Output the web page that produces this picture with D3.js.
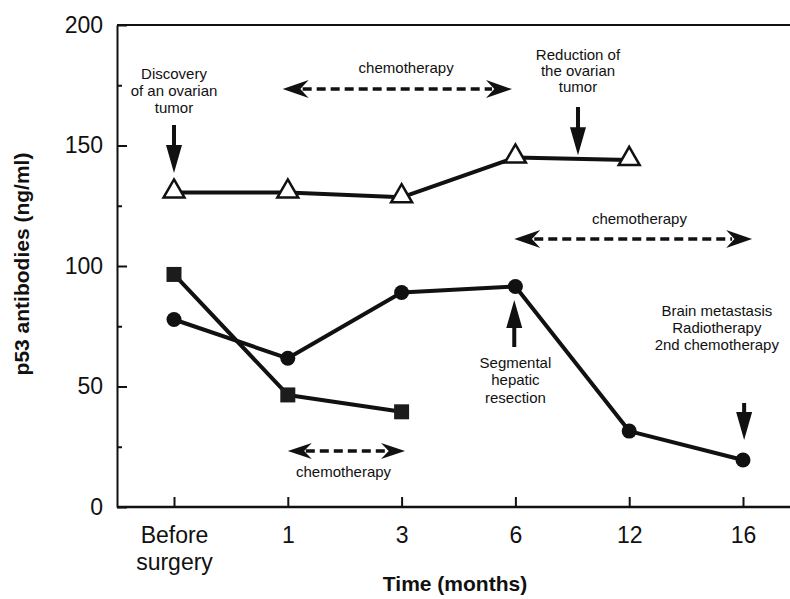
<!DOCTYPE html>
<html>
<head>
<meta charset="utf-8">
<script src="https://cdn.jsdelivr.net/npm/d3@7/dist/d3.min.js"></script>
<style>
    body { margin: 0; background: #fff; }
    svg { font-family: "Liberation Sans", Arial, Helvetica, sans-serif; }
    .axis text { font-size: 23px; fill: #111; }
    .axis line, .axis path { stroke: #111; stroke-width: 2px; }
    .title { font-size: 21px; font-weight: bold; fill: #111; }
    .note { font-size: 15px; fill: #111; }
    .series { fill: none; stroke: #111; stroke-width: 4px; stroke-linejoin: round; }
</style>
</head>
<body>
<svg id="chart" width="790" height="599"></svg>
<script>
"use strict";

// categories along the time axis
const categories = ['Before surgery', '1', '3', '6', '12', '16'];

// p53 antibodies (ng/ml), one value per category
const triangleValues = [130.5, 130.5, 128.5, 145, 144];
const squareValues = [96.5, 46.5, 39.5];
const circleValues = [77.8, 61.7, 89, 91.5, 31.5, 19.5];

const yTickValues = [0, 50, 100, 150, 200];
const yMinorTickValues = [25, 75, 125, 175];

// annotation texts
const discoveryLines = ['Discovery', 'of an ovarian', 'tumor'];
const reductionLines = ['Reduction of', 'the ovarian', 'tumor'];
const resectionLines = ['Segmental', 'hepatic', 'resection'];
const brainLines = ['Brain metastasis', 'Radiotherapy', '2nd chemotherapy'];
const chemoLabel = 'chemotherapy';

const WIDTH = 790;
const PLOT_LEFT = 117;

const svg = d3.select('#chart');

// category index -> x, value -> y
const x = d3.scaleLinear().domain([0, categories.length - 1]).range([174, 743]);
const y = d3.scaleLinear().domain([0, 200]).range([507, 25]);

// frame: left axis, top border and bottom axis run to the right edge
svg.append('line')
    .attr('x1', PLOT_LEFT).attr('x2', WIDTH)
    .attr('y1', y(200)).attr('y2', y(200))
    .attr('stroke', '#111').attr('stroke-width', 2);
svg.append('line')
    .attr('x1', PLOT_LEFT).attr('x2', WIDTH)
    .attr('y1', y(0)).attr('y2', y(0))
    .attr('stroke', '#111').attr('stroke-width', 2.5);

// y axis, ticks pointing inwards
const yAxis = d3.axisLeft(y).tickValues(yTickValues).tickSizeInner(-10).tickSizeOuter(0).tickPadding(14);
svg.append('g').classed('axis', true)
    .attr('transform', `translate(${PLOT_LEFT},0)`)
    .call(yAxis);
svg.append('g').classed('axis', true)
    .attr('transform', `translate(${PLOT_LEFT},0)`)
    .call(d3.axisLeft(y).tickValues(yMinorTickValues).tickSizeInner(-5).tickSizeOuter(0).tickFormat(''))
    .select('.domain').remove();

// x axis, ticks pointing inwards, "Before surgery" on two lines
const xAxis = d3.axisBottom(x).tickValues(d3.range(categories.length))
    .tickSizeInner(-10).tickSizeOuter(0).tickPadding(20)
    .tickFormat(i => categories[i]);
const xAxisGroup = svg.append('g').classed('axis', true)
    .attr('transform', `translate(0,${y(0)})`)
    .call(xAxis);
xAxisGroup.select('.domain').remove();
xAxisGroup.selectAll('.tick text').each(function (i) {
    const words = categories[i].split(' ');
    if (words.length < 2) return;
    const text = d3.select(this).text(null);
    words.forEach((word, k) => {
        text.append('tspan').attr('x', 0).attr('dy', k === 0 ? '0.71em' : '1.15em').text(word);
    });
    text.attr('dy', null);
});

// axis titles
svg.append('text').classed('title', true)
    .attr('x', 455).attr('y', 591)
    .attr('text-anchor', 'middle')
    .text('Time (months)');
svg.append('text').classed('title', true)
    .attr('transform', `translate(29,${y(100) - 2}) rotate(-90)`)
    .attr('text-anchor', 'middle')
    .text('p53 antibodies (ng/ml)');

// series lines
const line = d3.line().x((d, i) => x(i)).y(d => y(d));
for (const values of [triangleValues, squareValues, circleValues]) {
    svg.append('path').datum(values).classed('series', true).attr('d', line);
}

// markers
svg.append('g').selectAll('path').data(squareValues).join('path')
    .attr('transform', (d, i) => `translate(${x(i)},${y(d)})`)
    .attr('d', d3.symbol(d3.symbolSquare, 225))
    .attr('fill', '#1c1c1c');
svg.append('g').selectAll('circle').data(circleValues).join('circle')
    .attr('cx', (d, i) => x(i)).attr('cy', d => y(d)).attr('r', 7.5)
    .attr('fill', '#111');
svg.append('g').selectAll('path').data(triangleValues).join('path')
    .attr('transform', (d, i) => `translate(${x(i)},${y(d) - 1})`)
    .attr('d', d3.symbol(d3.symbolTriangle, 190))
    .attr('fill', '#fff').attr('stroke', '#111').attr('stroke-width', 2.5);

/**
 * Multi-line centered note. First baseline at value `v`.
 */
function note(lines, i, v, lineHeight = 17) {
    const text = svg.append('text').classed('note', true)
        .attr('text-anchor', 'middle')
        .attr('x', x(i)).attr('y', y(v));
    lines.forEach((l, k) => {
        text.append('tspan').attr('x', x(i)).attr('dy', k === 0 ? 0 : lineHeight).text(l);
    });
}

/**
 * Solid vertical arrow from value `from` to value `to` (tip).
 */
function solidArrow(i, from, to) {
    const cx = x(i), y0 = y(from), y1 = y(to);
    const dir = Math.sign(y1 - y0);
    const headBase = y1 - dir * 28;
    const path = d3.path();
    path.moveTo(cx - 2, y0);
    path.lineTo(cx + 2, y0);
    path.lineTo(cx + 2, headBase);
    path.lineTo(cx + 8, headBase);
    path.lineTo(cx, y1);
    path.lineTo(cx - 8, headBase);
    path.lineTo(cx - 2, headBase);
    path.closePath();
    svg.append('path').attr('d', path.toString()).attr('fill', '#111');
}

/**
 * Dashed horizontal double arrow between category positions.
 */
function dashedArrow(i0, i1, v, headLength = 26, headHalf = 9) {
    const x0 = x(i0), x1 = x(i1), yy = y(v);
    svg.append('line')
        .attr('x1', x0 + headLength - 6).attr('x2', x1 - headLength + 6)
        .attr('y1', yy).attr('y2', yy)
        .attr('stroke', '#111').attr('stroke-width', 3.5)
        .attr('stroke-dasharray', '9,5');
    for (const [tip, d] of [[x0, -1], [x1, 1]]) {
        const path = d3.path();
        path.moveTo(tip, yy);
        path.lineTo(tip - d * headLength, yy - headHalf);
        path.lineTo(tip - d * headLength * 0.68, yy);
        path.lineTo(tip - d * headLength, yy + headHalf);
        path.closePath();
        svg.append('path').attr('d', path.toString()).attr('fill', '#111');
    }
}

// annotations
note(discoveryLines, 0, 177.6);
solidArrow(0, 158.5, 138.6);

note([chemoLabel], 2.04, 180);
dashedArrow(0.955, 2.97, 173.4);

note(reductionLines, 3.55, 185.5, 16);
solidArrow(3.55, 166, 146);

note([chemoLabel], 4.09, 117.4);
dashedArrow(2.99, 5.08, 111.2);

note(resectionLines, 3.0, 57.7, 17.5);
solidArrow(2.99, 66.4, 85.9);

note(brainLines, 4.77, 79.3);
solidArrow(5.01, 43.2, 27.8);

dashedArrow(1.0, 2.03, 23.2, 24, 8);
note([chemoLabel], 1.49, 12.4);
</script>
</body>
</html>
